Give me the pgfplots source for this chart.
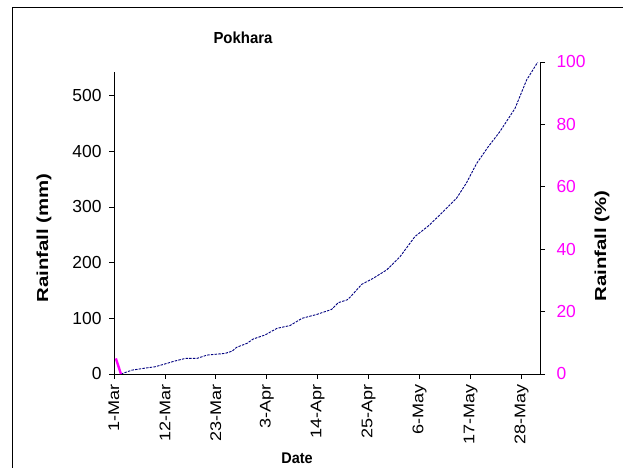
\documentclass[border=0pt]{standalone}
\usepackage{pgfplots}
\pgfplotsset{compat=1.18}
\usepackage{graphicx}
\usepackage{fontspec}
\setmainfont{Liberation Sans}
\definecolor{navyline}{RGB}{0,0,128}
\definecolor{pinkaxis}{RGB}{255,0,255}
\newcommand{\stretched}[1]{\scalebox{1.17}[1]{#1}}
\begin{document}
\begin{tikzpicture}[x=1bp,y=1bp]
% chart frame (only top and left edges are visible in the crop)
\draw[black, line width=0.8bp] (12,-20) -- (12,461) -- (660,461);
\node[font=\fontsize{15}{15}\selectfont\bfseries] at (243,430) {\scalebox{1}[1.07]{Pokhara}};
\node[font=\fontsize{16}{16}\selectfont\bfseries, rotate=90] at (44,230) {\scalebox{1.28}[1]{Rainfall (mm)}};
\node[font=\fontsize{16}{16}\selectfont\bfseries, rotate=90] at (602,222) {\scalebox{1.28}[1]{Rainfall (\%)}};
\node[font=\fontsize{14.5}{14.5}\selectfont\bfseries] at (297,10) {\scalebox{1}[1.07]{Date}};

\begin{axis}[
  at={(114bp,94bp)}, anchor=south west,
  width=426bp, height=302bp, scale only axis,
  xmin=0, xmax=92, ymin=0, ymax=542.5,
  axis x line*=bottom, axis y line*=left,
  axis line style={-, black, line width=0.8bp},
  tick align=outside, major tick length=5bp,
  tick style={black, line width=0.8bp},
  xtick={0,11,...,88},
  xticklabels={\stretched{1-Mar},\stretched{12-Mar},\stretched{23-Mar},\stretched{3-Apr},\stretched{14-Apr},\stretched{25-Apr},\stretched{6-May},\stretched{17-May},\stretched{28-May}},
  xticklabel style={rotate=90, anchor=east, font=\fontsize{15.5}{15.5}\selectfont, xshift=-2bp},
  ytick={0,100,...,500},
  yticklabel style={font=\fontsize{17.5}{17.5}\selectfont, xshift=-4bp},
  /pgf/number format/assume math mode=true,
  clip=false,
]
\addplot[navyline, line width=0.9bp, dash pattern=on 2.5bp off 1.2bp] coordinates {
  (1.5,0) (3.9,7) (7.1,11) (8.9,13) (11.4,19) (13,23) (15.4,28) (17.9,28)
  (20.1,34) (24,37) (25.5,41) (26.5,48) (28.7,55) (30.1,63) (32.6,70)
  (35.2,82) (38,87) (40.6,100) (43.8,107) (47,116) (48.4,128) (50.3,133)
  (51,138) (53.5,161) (56,172) (58.9,187) (61.8,211) (65,247) (67.9,266)
  (70.4,286) (74,316) (76.1,343) (78.3,378) (80.8,408) (83.3,435)
  (86.6,477) (89.1,528) (91.5,560)
};
\end{axis}

\begin{axis}[
  at={(114bp,94bp)}, anchor=south west,
  width=426bp, height=312bp, scale only axis,
  xmin=0, xmax=92, ymin=0, ymax=100,
  axis x line=none, axis y line*=right,
  axis line style={-, black, line width=0.8bp},
  tick align=outside, major tick length=5bp,
  tick style={black, line width=0.8bp},
  ytick={0,20,...,100},
  yticklabel style={pinkaxis, font=\fontsize{17.5}{17.5}\selectfont, xshift=8bp},
  /pgf/number format/assume math mode=true,
  clip=false,
]
\addplot[pinkaxis, line width=2.4bp] coordinates {(0.4,5) (1.5,0)};
\end{axis}

\pgfresetboundingbox
\useasboundingbox (0,0) rectangle (623,468);
\end{tikzpicture}
\end{document}
